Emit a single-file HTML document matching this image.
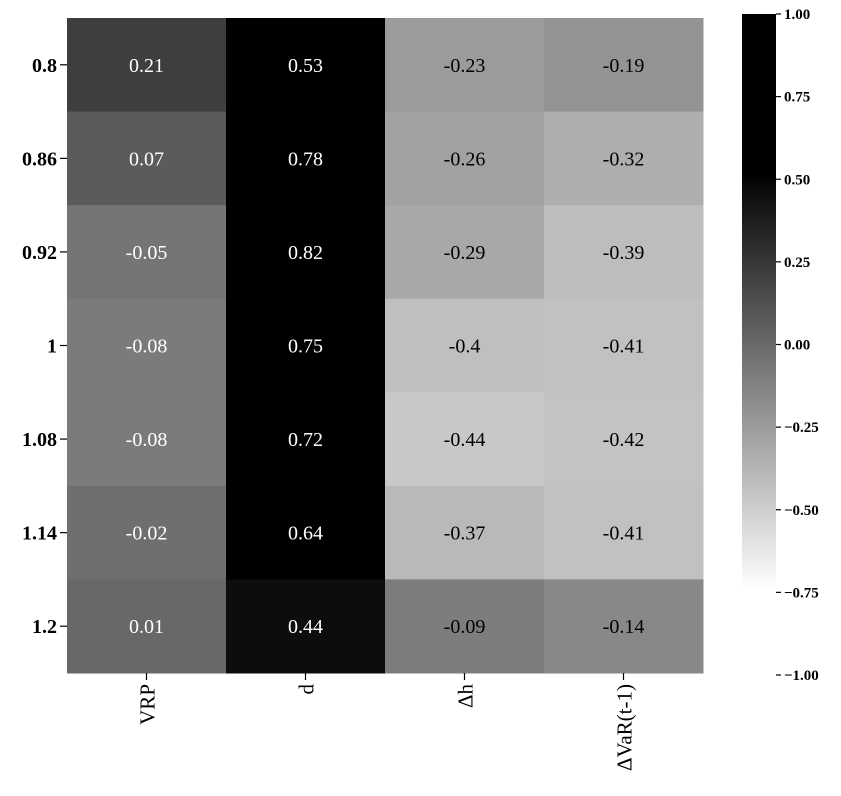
<!DOCTYPE html>
<html><head><meta charset="utf-8"><style>
html,body{margin:0;padding:0;background:#fff;}
svg{display:block;font-family:"Liberation Serif",serif;}
</style></head><body>
<svg id="chart" width="841" height="796">
<defs><linearGradient id="cb" x1="0" y1="1" x2="0" y2="0">
<stop offset="0" stop-color="#fff"/><stop offset="0.13" stop-color="#fff"/>
<stop offset="0.76" stop-color="#000"/><stop offset="1" stop-color="#000"/>
</linearGradient></defs>
<g id="cells"></g>
<g id="yaxis"></g>
<g id="xaxis"></g>
<g>
<rect x="742" y="14" width="34" height="661" fill="url(#cb)"/>
<g id="cbticks"></g>
</g>
</svg>
<script>
const rows = ["0.8","0.86","0.92","1","1.08","1.14","1.2"];
const cols = ["VRP","d","Δh","ΔVaR(t-1)"];
const colVRP = [0.21,0.07,-0.05,-0.08,-0.08,-0.02,0.01];
const colD = [0.53,0.78,0.82,0.75,0.72,0.64,0.44];
const colDh = [-0.23,-0.26,-0.29,-0.4,-0.44,-0.37,-0.09];
const colDVaR = [-0.19,-0.32,-0.39,-0.41,-0.42,-0.41,-0.14];
const labVRP = ["0.21","0.07","-0.05","-0.08","-0.08","-0.02","0.01"];
const labD = ["0.53","0.78","0.82","0.75","0.72","0.64","0.44"];
const labDh = ["-0.23","-0.26","-0.29","-0.4","-0.44","-0.37","-0.09"];
const labDVaR = ["-0.19","-0.32","-0.39","-0.41","-0.42","-0.41","-0.14"];
const cbTicks = [1,0.75,0.5,0.25,0,-0.25,-0.5,-0.75,-1];
const cbLabels = ["1.00","0.75","0.50","0.25","0.00","\u22120.25","\u22120.50","\u22120.75","\u22121.00"];

const NS="http://www.w3.org/2000/svg";
const X0=67,X1=703,Y0=18,Y1=673;
const cw=(X1-X0)/cols.length, rh=(Y1-Y0)/rows.length;
const xPos=i=>X0+i*cw, yPos=j=>Y0+j*rh;
const cbY=v=>14+(1-v)/2*661;
function gray(v){let g=(0.5-v)/1.2*255;return Math.max(0,Math.min(255,Math.round(g)));}
function mk(t,a,p){const e=document.createElementNS(NS,t);for(const k in a)e.setAttribute(k,a[k]);p.appendChild(e);return e;}
const data=[colVRP,colD,colDh,colDVaR], labs=[labVRP,labD,labDh,labDVaR];
const cg=document.getElementById('cells');
data.forEach((col,i)=>col.forEach((v,j)=>{
  const g=gray(v);
  const r=mk('rect',{x:xPos(i),y:yPos(j),width:cw+0.5,height:rh+0.5,fill:`rgb(${g},${g},${g})`},cg);
  
  
  const t=mk('text',{x:xPos(i)+cw/2,y:yPos(j)+rh/2+7,'text-anchor':'middle','font-size':'20',fill:g<124.5?'#fff':'#000'},cg);
  t.textContent=labs[i][j];
  
  
}));
const ya=document.getElementById('yaxis');
rows.forEach((r,j)=>{
  const y=yPos(j)+rh/2;
  mk('line',{x1:60,x2:67,y1:y,y2:y,stroke:'#000','stroke-width':1.2},ya);
  const t=mk('text',{x:57,y:y+7,'text-anchor':'end','font-size':'20','font-weight':'bold'},ya);
  t.textContent=r;
  
  
});
const xa=document.getElementById('xaxis');
cols.forEach((c,i)=>{
  const x=xPos(i)+cw/2;
  mk('line',{x1:x,x2:x,y1:673,y2:680,stroke:'#000','stroke-width':1.2},xa);
  const t=mk('text',{transform:`translate(${x+8},684) rotate(-90)`,'text-anchor':'end','font-size':'21'},xa);
  t.textContent=c;
  
  
});
const cbt=document.getElementById('cbticks');
cbTicks.forEach((v,k)=>{
  const y=cbY(v);
  mk('line',{x1:776,x2:781,y1:y,y2:y,stroke:'#000','stroke-width':1.2},cbt);
  const t=mk('text',{x:784,y:y+5,'font-size':'15','font-weight':'bold'},cbt);
  t.textContent=cbLabels[k];
  
  
});
</script>
</body></html>
